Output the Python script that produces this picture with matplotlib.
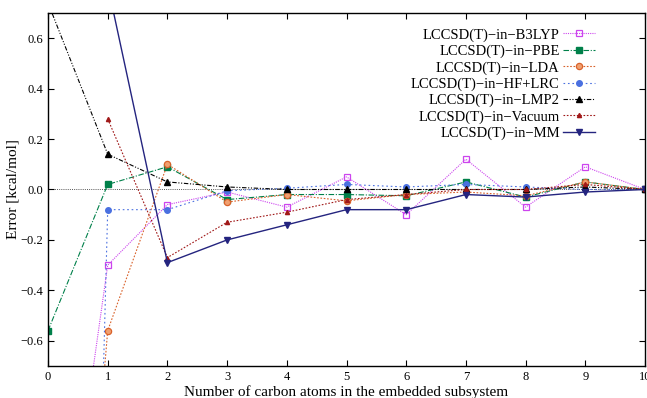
import matplotlib
matplotlib.use("Agg")
import matplotlib.pyplot as plt
import numpy as np

plt.rcParams['font.family'] = ['Liberation Serif', 'DejaVu Serif']
plt.rcParams['mathtext.fontset'] = 'stix'

# number of carbon atoms
x_all = [0, 1, 2, 3, 4, 5, 6, 7, 8, 9, 10]
x_from1 = [1, 2, 3, 4, 5, 6, 7, 8, 9, 10]

# errors in kcal/mol
b3lyp = [-1.98, -0.30, -0.06, -0.01, -0.07, 0.05, -0.10, 0.12, -0.07, 0.09, 0.0]
pbe = [-0.56, 0.02, 0.09, -0.04, -0.02, -0.02, -0.025, 0.03, -0.03, 0.03, 0.0]
lda = [-3.4, -0.56, 0.10, -0.05, -0.02, -0.045, -0.02, -0.01, -0.025, 0.03, 0.0]
hflrc = [-9.0, -0.08, -0.08, -0.005, 0.005, 0.02, 0.01, 0.02, 0.01, 0.0, 0.0]
lmp2 = [0.74, 0.14, 0.03, 0.01, 0.0, 0.0, 0.0, 0.0, 0.0, 0.01, 0.0]
vacuum = [0.28, -0.27, -0.13, -0.09, -0.04, -0.02, 0.0, 0.0, 0.02, 0.0]
mm = [0.81, -0.29, -0.20, -0.14, -0.08, -0.08, -0.02, -0.03, -0.01, 0.0]

fig = plt.figure(figsize=(6.47, 3.98), dpi=100)
ax = fig.add_axes([0.0742, 0.0804, 0.9227, 0.887])

# zero line
ax.axhline(0.0, color='#555555', lw=0.7, ls=(0, (1, 1.2)), zorder=1)

ax.plot(x_all, b3lyp, color='#cc44ee', lw=0.8, ls=(0, (1, 1)),
        marker='s', ms=4.5, mfc='none', mew=0.9, label='LCCSD(T)\u2212in\u2212B3LYP')
ax.plot(x_all, pbe, color='#00804a', lw=0.8, ls=(0, (5, 1.5, 1, 1.5)),
        marker='s', ms=4.5, label='LCCSD(T)\u2212in\u2212PBE')
ax.plot(x_all, lda, color='#d9622b', lw=0.8, ls=(0, (1.5, 1.5)),
        marker='o', ms=4.5, mfc='#f0a070', mew=0.9, label='LCCSD(T)\u2212in\u2212LDA')
ax.plot(x_all, hflrc, color='#4a70e0', lw=0.8, ls=(0, (1.5, 2.5)),
        marker='o', ms=4, label='LCCSD(T)\u2212in\u2212HF+LRC')
ax.plot(x_all, lmp2, color='black', lw=0.8, ls=(0, (4, 1.5, 1, 1.5, 1, 1.5)),
        marker='^', ms=4.5, label='LCCSD(T)\u2212in\u2212LMP2')
ax.plot(x_from1, vacuum, color='#a01818', lw=0.8, ls=(0, (1.5, 1.5)),
        marker='^', ms=3, label='LCCSD(T)\u2212in\u2212Vacuum')
ax.plot(x_from1, mm, color='#24247f', lw=1.0, ls='-',
        marker='v', ms=4.5, label='LCCSD(T)\u2212in\u2212MM')

ax.set_xlim(0, 10)
ax.set_ylim(-0.7, 0.7)
ax.set_xticks(range(0, 11))
ax.set_yticks([-0.6, -0.4, -0.2, 0.0, 0.2, 0.4, 0.6])
ax.set_yticklabels(['\u22120.6', '\u22120.4', '\u22120.2', '0.0', '0.2', '0.4', '0.6'])
ax.tick_params(direction='in', top=True, right=True, labelsize=9, length=4, width=0.8)
for s in ax.spines.values():
    s.set_linewidth(1.0)

ax.set_xlabel('Number of carbon atoms in the embedded subsystem', fontsize=11, labelpad=2)
ax.set_ylabel('Error [kcal/mol]', fontsize=11, labelpad=1)

ax.legend(loc='upper right', bbox_to_anchor=(0.938, 0.994), frameon=False,
          markerfirst=False, fontsize=10.5, handlelength=2.2, labelspacing=0.2,
          handletextpad=0.2)

fig.savefig('out.png', dpi=100)
